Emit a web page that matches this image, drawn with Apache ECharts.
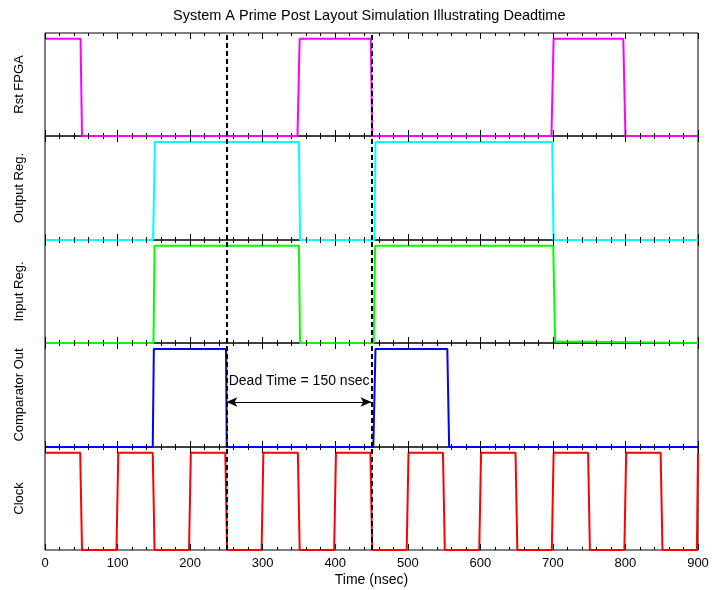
<!DOCTYPE html>
<html>
<head>
<meta charset="utf-8">
<script src="https://cdn.jsdelivr.net/npm/echarts@6/dist/echarts.min.js"></script>
<style>
  html, body { margin: 0; padding: 0; background: #fff; }
  #chart { width: 713px; height: 590px; }
</style>
</head>
<body>
<div id="chart"></div>
<script>
// Signal traces as [time (nsec), logic level] pairs
const rstFpga = [[0, 1], [49, 1], [51, 0], [348, 0], [351, 1], [449, 1], [451, 0], [698, 0], [701, 1], [797, 1], [800, 0], [900, 0]];
const outputReg = [[0, 0], [149, 0], [151.5, 1], [350, 1], [351.5, 0], [454, 0], [455.5, 1], [699, 1], [701, 0], [900, 0]];
const inputReg = [[0, 0], [149.5, 0], [151, 1], [350, 1], [351.5, 0], [453, 0], [455, 1], [700.5, 1], [703, 0.012], [749, 0.012], [750, 0], [900, 0]];
const comparatorOut = [[0, 0], [148.5, 0], [150, 1], [249.5, 1], [250.5, 0], [452.5, 0], [455.5, 1], [554.5, 1], [557, 0], [900, 0]];
const clock = [[0, 1], [48.5, 1], [51, 0], [98.5, 0], [101, 1], [148.5, 1], [151, 0], [198.5, 0], [201, 1], [248.5, 1], [251, 0],
  [298.5, 0], [301, 1], [348.5, 1], [351, 0], [398.5, 0], [401, 1], [448.5, 1], [451, 0], [498.5, 0], [501, 1], [548.5, 1], [551, 0],
  [598.5, 0], [601, 1], [648.5, 1], [651, 0], [698.5, 0], [701, 1], [748.5, 1], [751, 0], [798.5, 0], [801, 1], [848.5, 1], [851, 0],
  [898.5, 0], [900, 1]];

// Panel names, top to bottom
const panelNames = ['Rst FPGA', 'Output Reg.', 'Input Reg.', 'Comparator Out', 'Clock'];
const panelData = [rstFpga, outputReg, inputReg, comparatorOut, clock];
const panelColors = ['#ff00ff', '#00ffff', '#00ff00', '#0000ff', '#ff0000'];

// Time axis
const timeMin = 0;
const timeMax = 900;
const timeStep = 100;

// Dead time markers and annotation
const deadStart = 250;
const deadEnd = 450;
const deadTimeNsec = 150;
const arrowLevel = 0.459;
const noteLevel = 0.668;
const noteTime = 252.5;

const FONT = "'Liberation Sans', Arial, Helvetica, sans-serif";
const gridTops = [33, 136, 240, 343, 447];
const gridHeights = [103, 104, 103, 104, 103];

const grids = [], xAxes = [], yAxes = [], series = [];

panelNames.forEach((name, i) => {
  grids.push({
    left: 45, right: 15, top: gridTops[i], height: gridHeights[i],
    show: true, borderColor: '#000', borderWidth: 1, backgroundColor: 'transparent'
  });
  const isLast = i === panelNames.length - 1;
  ['bottom', 'top'].forEach(pos => {
    const showLabel = isLast && pos === 'bottom';
    xAxes.push({
      type: 'value', gridIndex: i, position: pos,
      min: timeMin, max: timeMax, interval: timeStep,
      z: 5,
      axisLine: { show: false },
      axisTick: { show: true, inside: true, length: 6, lineStyle: { color: '#000', width: 1 } },
      minorTick: { show: true, splitNumber: 5, length: 3, lineStyle: { color: '#000', width: 1 } },
      splitLine: { show: false },
      minorSplitLine: { show: false },
      axisLabel: { show: showLabel, color: '#000', fontSize: 13, fontFamily: FONT, margin: 7 },
      name: showLabel ? 'Time (nsec)' : '',
      nameLocation: 'middle', nameGap: 23,
      nameTextStyle: { color: '#000', fontSize: 14, fontFamily: FONT }
    });
  });
  yAxes.push({
    type: 'value', gridIndex: i, min: 0, max: 1.06,
    axisLine: { show: false }, axisTick: { show: false },
    axisLabel: { show: false }, splitLine: { show: false },
    name: name, nameLocation: 'middle', nameRotate: 90, nameGap: 19,
    nameTextStyle: { color: '#000', fontSize: 13, fontFamily: FONT }
  });

  const markLineData = [{ xAxis: deadStart }, { xAxis: deadEnd }];
  const s = {
    type: 'line', name: name,
    xAxisIndex: i * 2, yAxisIndex: i,
    data: panelData[i],
    showSymbol: false, symbol: 'none',
    lineStyle: { color: panelColors[i], width: 2 },
    itemStyle: { color: panelColors[i] },
    z: 2,
    markLine: {
      silent: true, symbol: 'none', animation: false,
      label: { show: false },
      lineStyle: { color: '#000', type: [5, 3], width: 2 },
      data: markLineData
    }
  };
  if (name === 'Comparator Out') {
    markLineData.push([
      { coord: [deadStart, arrowLevel], symbol: 'arrow', symbolSize: [7, 11],
        lineStyle: { color: '#000', type: 'solid', width: 1 } },
      { coord: [deadEnd, arrowLevel], symbol: 'arrow', symbolSize: [7, 11] }
    ]);
    s.markPoint = {
      silent: true, animation: false,
      data: [{
        coord: [noteTime, noteLevel], symbol: 'circle', symbolSize: 1,
        itemStyle: { color: 'rgba(0,0,0,0)' },
        label: {
          show: true, position: 'right', distance: 0,
          formatter: 'Dead Time = ' + deadTimeNsec + ' nsec',
          color: '#000', fontSize: 14, fontFamily: FONT
        }
      }]
    };
  }
  series.push(s);
});

const chart = echarts.init(document.getElementById('chart'), null, { renderer: 'canvas' });
chart.setOption({
  animation: false,
  backgroundColor: '#fff',
  graphic: [{
    type: 'text', left: 173, top: 8,
    style: {
      text: 'System A Prime Post Layout Simulation Illustrating Deadtime',
      fill: '#000', fontSize: 14.5, fontFamily: FONT
    }
  }],
  grid: grids,
  xAxis: xAxes,
  yAxis: yAxes,
  series: series
});
</script>
</body>
</html>
